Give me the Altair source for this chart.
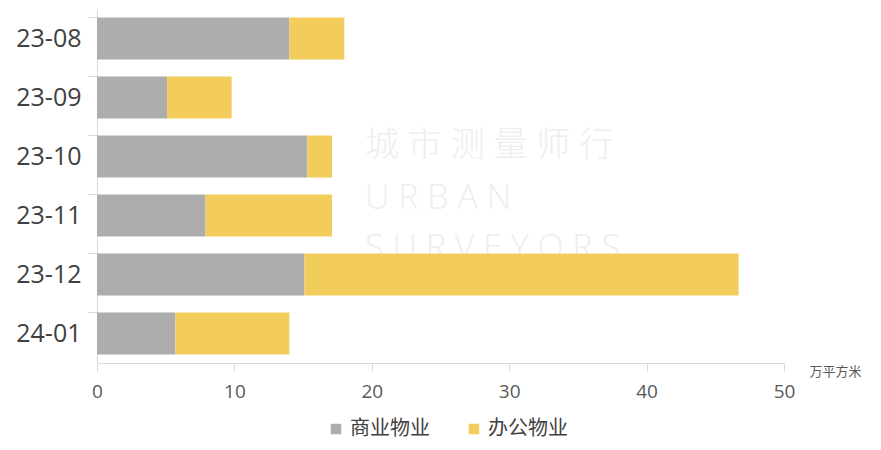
import altair as alt
import pandas as pd

months = ["23-08", "23-09", "23-10", "23-11", "23-12", "24-01"]
commercial = [14.0, 5.1, 15.3, 7.9, 15.1, 5.7]
office = [4.0, 4.7, 1.8, 9.2, 31.6, 8.3]
series = ["商业物业", "办公物业"]
colors = ["#adadad", "#f2cd5b"]
x_ticks = [0, 10, 20, 30, 40, 50]

rows = []
for m, c, o in zip(months, commercial, office):
    rows.append({"month": m, "type": series[0], "value": c, "ord": 0})
    rows.append({"month": m, "type": series[1], "value": o, "ord": 1})
df = pd.DataFrame(rows)

FONT = "Open Sans, Noto Sans CJK SC, sans-serif"

bars = alt.Chart(df).mark_bar(size=42).encode(
    y=alt.Y("month:N", sort=months, title=None,
            scale=alt.Scale(paddingInner=0.29, paddingOuter=0.145),
            axis=alt.Axis(labelFontSize=25, labelColor="#404040", labelFont=FONT,
                          domainColor="#d9d9d9", tickColor="#d9d9d9", tickSize=9,
                          bandPosition=0, labelPadding=7, grid=False)),
    x=alt.X("value:Q", stack="zero", title="万平方米",
            scale=alt.Scale(domain=[0, 50], nice=False),
            axis=alt.Axis(values=x_ticks, labelFontSize=19, labelColor="#595959",
                          labelFont=FONT, domainColor="#d9d9d9", tickColor="#d9d9d9",
                          tickSize=8, labelPadding=11, labelFlush=False, grid=False,
                          titleFont=FONT, titleFontSize=13, titleFontWeight="normal",
                          titleColor="#595959", titleX=712, titleY=8,
                          titleAlign="left", titleBaseline="middle")),
    color=alt.Color("type:N", sort=series,
                    scale=alt.Scale(domain=series, range=colors),
                    legend=alt.Legend(title=None, orient="none", direction="horizontal",
                                      legendX=229, legendY=410, symbolType="square",
                                      symbolSize=110, symbolStrokeWidth=0,
                                      labelFontSize=20, labelColor="#404040",
                                      labelFont=FONT, columnPadding=34, symbolOffset=0)),
    order=alt.Order("ord:Q"),
)

wm_text = ["城 市 测 量 师 行", "U R B A N", "S U R V E Y O R S"]
wm_y = [137, 190, 240]
wm_size = [34, 34, 34]
wm = pd.DataFrame({"t": wm_text, "yy": wm_y, "fs": wm_size})
watermark = alt.Chart(wm).mark_text(align="left", baseline="middle", color="#eceef2",
                                    font=FONT, fontWeight=300).encode(
    x=alt.value(268),
    y=alt.Y("yy:Q", scale=None),
    text="t:N",
    size=alt.Size("fs:Q", scale=None, legend=None),
)

chart = alt.layer(watermark, bars).properties(
    width=687, height=354,
    autosize=alt.AutoSizeParams(type="none"),
    padding={"left": 89, "top": 1, "right": 80, "bottom": 79},
).configure_view(stroke=None)

chart.save("out.html", embed_options={"renderer": "svg", "actions": False})
